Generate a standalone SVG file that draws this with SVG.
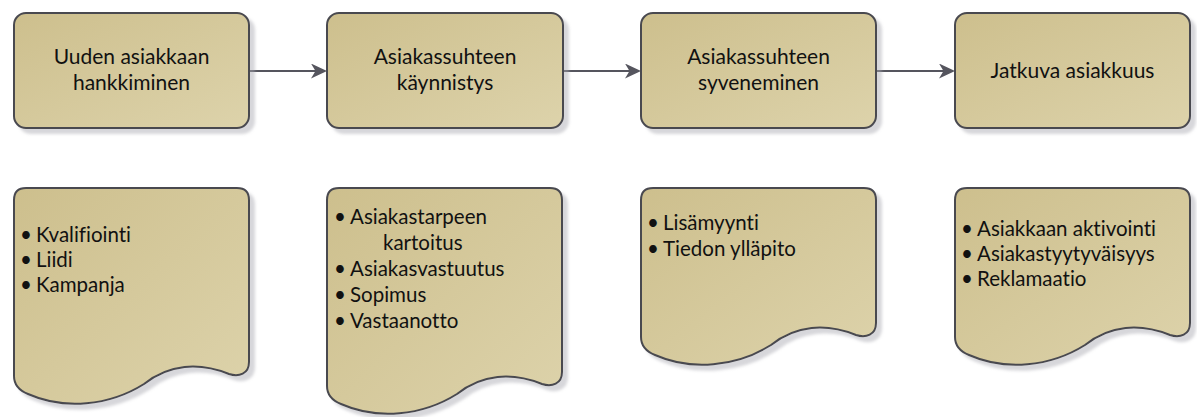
<svg xmlns="http://www.w3.org/2000/svg" width="1197" height="417" viewBox="0 0 1197 417">
  <defs>
    <linearGradient id="tan" x1="0" y1="0" x2="1" y2="1">
      <stop offset="0" stop-color="#cdbf8d"/>
      <stop offset="1" stop-color="#ddd3ab"/>
    </linearGradient>
    <filter id="shadow" x="-10%" y="-10%" width="125%" height="125%">
      <feDropShadow dx="5" dy="5" stdDeviation="1.5" flood-color="#a6a6ae" flood-opacity="0.45"/>
    </filter>
    <marker id="arrow" markerUnits="userSpaceOnUse" markerWidth="18" markerHeight="16" refX="6" refY="7.5" orient="auto">
      <path d="M0,0 L16,7.5 L0,15 L4.5,7.5 Z" fill="#55555e"/>
    </marker>
  </defs>
  <style>
    .shape { fill: url(#tan); stroke: #4a4a50; stroke-width: 2; filter: url(#shadow); }
    .title { font-family: Lato, "Open Sans", sans-serif; font-size: 21px; fill: #111; text-anchor: middle; font-variant-ligatures: none; }
    .item { font-family: Lato, "Open Sans", sans-serif; font-size: 20.5px; fill: #111; font-variant-ligatures: none; }
    .link { stroke: #55555e; stroke-width: 2; fill: none; }
  </style>

  <!-- connectors between the stage boxes -->
  <g id="connectors">
    <path class="link" d="M249,71 H317" marker-end="url(#arrow)"/>
    <path class="link" d="M563,71 H631" marker-end="url(#arrow)"/>
    <path class="link" d="M876,71 H945" marker-end="url(#arrow)"/>
  </g>

  <!-- stage boxes -->
  <g id="stage1">
    <rect class="shape" x="14" y="13" width="235" height="115" rx="12"/>
    <text class="title" x="131.5" y="64">Uuden asiakkaan</text>
    <text class="title" x="131.5" y="90">hankkiminen</text>
  </g>
  <g id="stage2">
    <rect class="shape" x="327" y="13" width="236" height="115" rx="12"/>
    <text class="title" x="445" y="64">Asiakassuhteen</text>
    <text class="title" x="445" y="90">käynnistys</text>
  </g>
  <g id="stage3">
    <rect class="shape" x="641" y="13" width="235" height="115" rx="12"/>
    <text class="title" x="758.5" y="64">Asiakassuhteen</text>
    <text class="title" x="758.5" y="90">syveneminen</text>
  </g>
  <g id="stage4">
    <rect class="shape" x="955" y="13" width="235" height="115" rx="12"/>
    <text class="title" x="1072.5" y="78">Jatkuva asiakkuus</text>
  </g>

  <!-- document shapes with the activities of each stage -->
  <g id="doc1">
    <path class="shape" d="M14,376 C14,384 18,390 28,394 C64,410 109,406 144,384 C169,364 199,362 229,374 C239,377 249,374 249,362 L249,200 Q249,188 237,188 L26,188 Q14,188 14,200 Z"/>
    <text class="item" y="242"><tspan x="20">•</tspan><tspan x="36">Kvalifiointi</tspan></text>
    <text class="item" y="267"><tspan x="20">•</tspan><tspan x="36">Liidi</tspan></text>
    <text class="item" y="292"><tspan x="20">•</tspan><tspan x="36">Kampanja</tspan></text>
  </g>
  <g id="doc2">
    <path class="shape" d="M327,386 C327,394 331,400 341,404 C377,420 422,416 457,394 C482,374 512,372 542,384 C552,387 562,384 562,372 L562,200 Q562,188 550,188 L339,188 Q327,188 327,200 Z"/>
    <text class="item" y="224"><tspan x="334">•</tspan><tspan x="350">Asiakastarpeen</tspan></text>
    <text class="item" y="250"><tspan x="383">kartoitus</tspan></text>
    <text class="item" y="276"><tspan x="334">•</tspan><tspan x="350">Asiakasvastuutus</tspan></text>
    <text class="item" y="302"><tspan x="334">•</tspan><tspan x="350">Sopimus</tspan></text>
    <text class="item" y="328"><tspan x="334">•</tspan><tspan x="350">Vastaanotto</tspan></text>
  </g>
  <g id="doc3">
    <path class="shape" d="M641,337 C641,345 645,351 655,355 C691,371 736,367 771,345 C796,325 826,323 856,335 C866,338 876,335 876,323 L876,200 Q876,188 864,188 L653,188 Q641,188 641,200 Z"/>
    <text class="item" y="230"><tspan x="647">•</tspan><tspan x="663">Lisämyynti</tspan></text>
    <text class="item" y="256"><tspan x="647">•</tspan><tspan x="663">Tiedon ylläpito</tspan></text>
  </g>
  <g id="doc4">
    <path class="shape" d="M955,337 C955,345 959,351 969,355 C1005,371 1050,367 1085,345 C1110,325 1140,323 1170,335 C1180,338 1190,335 1190,323 L1190,200 Q1190,188 1178,188 L967,188 Q955,188 955,200 Z"/>
    <text class="item" y="236"><tspan x="961">•</tspan><tspan x="977">Asiakkaan aktivointi</tspan></text>
    <text class="item" y="261"><tspan x="961">•</tspan><tspan x="977">Asiakastyytyväisyys</tspan></text>
    <text class="item" y="286"><tspan x="961">•</tspan><tspan x="977">Reklamaatio</tspan></text>
  </g>
</svg>
